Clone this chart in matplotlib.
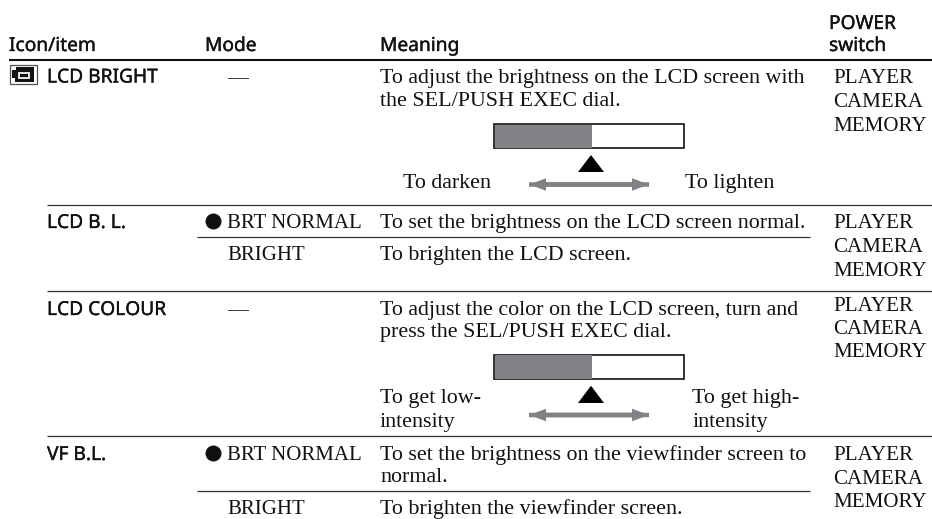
import matplotlib
matplotlib.use("Agg")
import matplotlib.pyplot as plt
import matplotlib.patheffects as pe
from matplotlib.patches import Rectangle, Polygon, FancyArrow

headers = [("Icon/item", 9, 51), ("Mode", 205, 51), ("Meaning", 380, 51), ("POWER", 829, 29), ("switch", 829, 51)]
items = [("LCD BRIGHT", 47, 82.5), ("LCD B. L.", 47, 228), ("LCD COLOUR", 47, 315), ("VF B.L.", 47, 460)]
modes = [("—", 227, 83), ("BRT NORMAL", 227, 228), ("BRIGHT", 227, 260),
         ("—", 227, 315), ("BRT NORMAL", 227, 460), ("BRIGHT", 227, 514)]
meanings = [
    ("To adjust the brightness on the LCD screen with", 380, 83),
    ("the SEL/PUSH EXEC dial.", 380, 106.5),
    ("To darken", 403, 188), ("To lighten", 685, 188),
    ("To set the brightness on the LCD screen normal.", 380, 228),
    ("To brighten the LCD screen.", 380, 260),
    ("To adjust the color on the LCD screen, turn and", 380, 315),
    ("press the SEL/PUSH EXEC dial.", 380, 337),
    ("To get low-", 380, 403), ("intensity", 380, 426.5),
    ("To get high-", 692.5, 403), ("intensity", 692.5, 426.5),
    ("To set the brightness on the viewfinder screen to", 380, 460),
    ("normal.", 380, 482),
    ("To brighten the viewfinder screen.", 380, 514),
]
switch_rows = [(83, 107, 131), (228, 252, 276), (311, 334, 357), (460, 484, 507)]
switch = ["PLAYER", "CAMERA", "MEMORY"]
rules = [(47, 932, 204.5), (47, 932, 290.5), (47, 932, 436)]
sub_rules = [(197, 810, 236.5), (197, 810, 491)]

SERIF = "Liberation Serif"
SANS = "Noto Sans"
fig = plt.figure(figsize=(9.32, 5.19), dpi=100)
ax = fig.add_axes([0, 0, 1, 1])
ax.set_xlim(0, 932); ax.set_ylim(519, 0); ax.axis("off")

def serif(s, x, y, size=15.8):
    ax.text(x, y, s, family=SERIF, fontsize=size, ha="left", va="baseline", color="#111111")
def sans(s, x, y):
    ax.text(x, y, s, family=SANS, fontsize=13.8, ha="left", va="baseline", color="#111111",
            path_effects=[pe.withStroke(linewidth=0.25, foreground="#111111")])

for s, x, y in headers:
    sans(s, x, y)
ax.plot([9, 932], [60, 60], color="#111111", lw=1.5, solid_capstyle="butt")
for s, x, y in items:
    sans(s, x, y)
for s, x, y in modes:
    serif(s, x, y, 15)
for s, x, y in meanings:
    serif(s, x, y)
for ys in switch_rows:
    for s, y in zip(switch, ys):
        serif(s, 833, y, 15.1)
for x0, x1, y in rules + sub_rules:
    ax.plot([x0, x1], [y, y], color="#333333", lw=0.9, solid_capstyle="butt")
for y in (221.3, 452.8):
    ax.plot(213.3, y, "o", color="#111111", ms=11.5, mew=0)

for top, bot, ttop, tbot, ay in ((124, 148, 155, 172, 184.5), (354.5, 379, 385.7, 403, 415)):
    ax.add_patch(Rectangle((494, top), 189.5, bot - top, fc="white", ec="#111111", lw=1.2, zorder=3))
    ax.add_patch(Rectangle((495, top + 0.5), 97, bot - top - 1, fc="#818285", ec="none", zorder=4))
    ax.add_patch(Polygon([(578, tbot), (604, tbot), (591, ttop)], fc="black", ec="none"))
    ax.add_patch(FancyArrow(529, ay, 120, 0, width=4.5, head_width=12.5, head_length=17,
                            length_includes_head=True, fc="#818285", ec="none"))
    ax.add_patch(FancyArrow(649, ay, -120, 0, width=4.5, head_width=12.5, head_length=17,
                            length_includes_head=True, fc="#818285", ec="none"))

# icon
ax.add_patch(Rectangle((10, 65), 26.5, 19, fc="white", ec="#555555", lw=0.9))
ax.add_patch(Polygon([(12, 70), (16, 70), (16, 67), (34, 67), (34, 82), (15, 82), (15, 78), (12, 78)],
                     fc="#111111", ec="none"))
ax.add_patch(Rectangle((18, 72), 12, 6.5, fc="#dddddd", ec="none"))
ax.add_patch(Rectangle((20, 74), 8, 3, fc="#111111", ec="none"))
fig.savefig("out.png", dpi=100)
